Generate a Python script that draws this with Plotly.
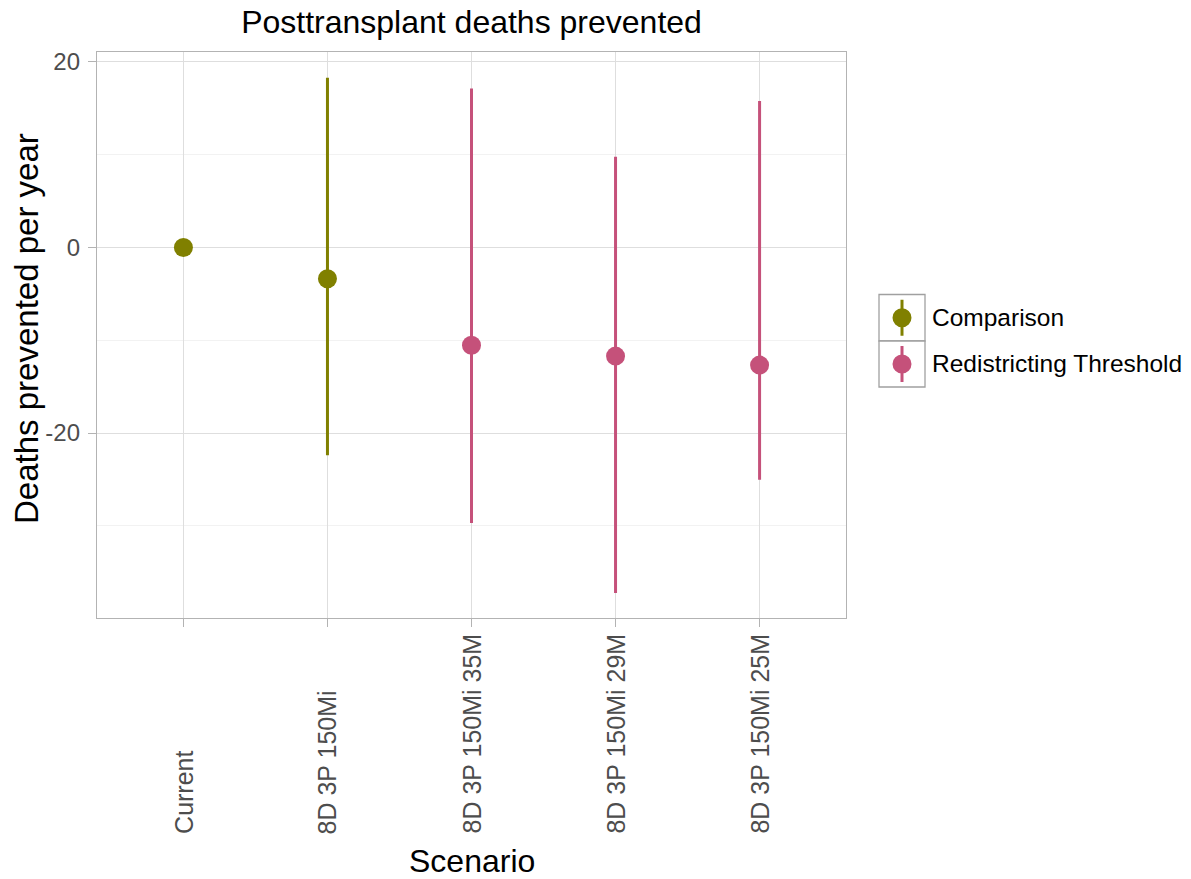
import plotly.graph_objects as go

# Scenarios and estimates (deaths prevented per year, with interval bounds)
scenarios = ["Current", "8D 3P 150Mi", "8D 3P 150Mi 35M", "8D 3P 150Mi 29M", "8D 3P 150Mi 25M"]
groups = ["Comparison", "Comparison", "Redistricting Threshold", "Redistricting Threshold", "Redistricting Threshold"]
estimate = [0.0, -3.37, -10.53, -11.71, -12.68]
lower = [0.0, -22.38, -29.68, -37.22, -25.04]
upper = [0.0, 18.28, 17.13, 9.76, 15.76]

y_tickvals = [-20, 0, 20]
y_ticktext = ["-20", "0", "20"]

group_names = ["Comparison", "Redistricting Threshold"]
group_colors = {"Comparison": "#808000", "Redistricting Threshold": "#C5517A"}

# Plot panel geometry (pixels) used to place the hand-drawn legend and labels
W, H = 1191, 879
L, R, T, B = 97, 846, 52, 618
PW, PH = R - L, B - T


def px(xp):
    return (xp - L) / PW


def py(yp):
    return (B - yp) / PH


fig = go.Figure()
for g in group_names:
    idx = [i for i, gg in enumerate(groups) if gg == g]
    xs = [scenarios[i] for i in idx]
    ys = [estimate[i] for i in idx]
    ep = [upper[i] - estimate[i] for i in idx]
    em = [estimate[i] - lower[i] for i in idx]
    fig.add_trace(go.Scatter(
        x=xs, y=ys, mode="markers", name=g, showlegend=False,
        marker=dict(size=19, color=group_colors[g], line=dict(width=0)),
        error_y=dict(type="data", symmetric=False, array=ep, arrayminus=em,
                     width=0, thickness=3, color=group_colors[g]),
    ))

FAMILY = "Liberation Sans, Arial, sans-serif"
tick_font = dict(family=FAMILY, size=24, color="#4D4D4D")
xlab_font = dict(family=FAMILY, size=25, color="#4D4D4D")
title_font = dict(family=FAMILY, size=32, color="#000000")
ytitle_font = dict(family=FAMILY, size=33, color="#000000")

annotations = []
# Rotated category labels, aligned at their start below the axis
for s in scenarios:
    annotations.append(dict(
        x=s, xref="x", y=py(836), yref="paper", text=s, showarrow=False,
        textangle=-90, xanchor="center", yanchor="bottom", font=xlab_font,
    ))
# Axis titles
annotations.append(dict(x=px(471.5), xref="paper", y=py(861), yref="paper", text="Scenario",
                        showarrow=False, xanchor="center", yanchor="middle", font=title_font))
annotations.append(dict(x=px(26), xref="paper", y=py(329), yref="paper", text="Deaths prevented per year",
                        showarrow=False, textangle=-90, xanchor="center", yanchor="middle", font=ytitle_font))

# Legend: boxed keys with a point-range glyph, followed by labels
shapes = []
key_x0, key_x1 = 879, 925
key_rows = [(294.5, 341), (341, 387)]
legend_font = dict(family=FAMILY, size=24.5, color="#000000")
for g, (y0, y1) in zip(group_names, key_rows):
    cx = (key_x0 + key_x1) / 2
    cy = (y0 + y1) / 2
    shapes.append(dict(type="rect", xref="paper", yref="paper",
                       x0=px(key_x0), x1=px(key_x1), y0=py(y1), y1=py(y0),
                       line=dict(color="#A0A0A0", width=1.3), fillcolor="white", layer="above"))
    shapes.append(dict(type="line", xref="paper", yref="paper",
                       x0=px(cx), x1=px(cx), y0=py(cy + 18), y1=py(cy - 18),
                       line=dict(color=group_colors[g], width=3), layer="above"))
    shapes.append(dict(type="circle", xref="paper", yref="paper",
                       x0=px(cx - 9.5), x1=px(cx + 9.5), y0=py(cy + 9.5), y1=py(cy - 9.5),
                       line=dict(width=0), fillcolor=group_colors[g], layer="above"))
    annotations.append(dict(x=px(930), xref="paper", y=py(cy), yref="paper", text=g,
                            showarrow=False, xanchor="left", yanchor="middle", font=legend_font))

fig.update_layout(
    width=W, height=H,
    margin=dict(l=L, r=W - R, t=T, b=H - B),
    paper_bgcolor="white", plot_bgcolor="white",
    showlegend=False,
    title=dict(text="Posttransplant deaths prevented", x=px(471.5), xref="paper", xanchor="center",
               y=1 - 22 / H, yref="container", yanchor="middle", font=title_font),
    annotations=annotations,
    shapes=shapes,
)

fig.update_xaxes(
    type="category", categoryorder="array", categoryarray=scenarios,
    range=[-0.6, 4.6], showticklabels=False,
    showgrid=True, gridcolor="#DEDEDE", gridwidth=1.3,
    ticks="outside", ticklen=8, tickwidth=1.3, tickcolor="#B3B3B3",
    showline=True, linecolor="#B3B3B3", linewidth=1.3, mirror=True, zeroline=False,
)
fig.update_yaxes(
    range=[-39.92, 21.05], tickmode="array", tickvals=y_tickvals, ticktext=y_ticktext,
    tickfont=tick_font, ticklabelstandoff=3,
    showgrid=True, gridcolor="#DEDEDE", gridwidth=1.3,
    minor=dict(tickmode="linear", dtick=10, tick0=0, showgrid=True, gridcolor="#F2F2F2",
               gridwidth=0.7, ticks=""),
    ticks="outside", ticklen=8, tickwidth=1.3, tickcolor="#B3B3B3",
    showline=True, linecolor="#B3B3B3", linewidth=1.3, mirror=True, zeroline=False,
)

fig.write_html("out.html")
